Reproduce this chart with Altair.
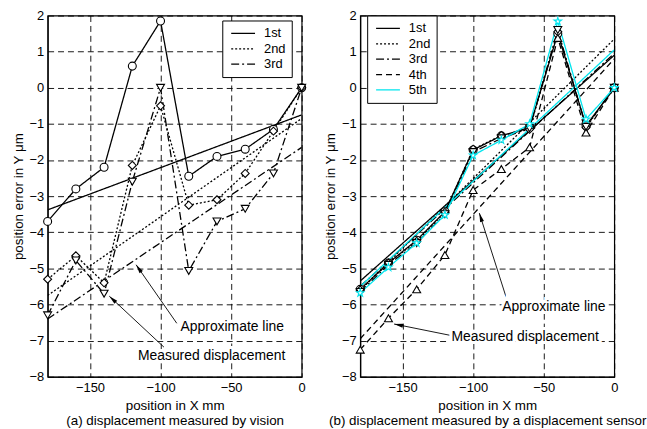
import math
import altair as alt
import pandas as pd

# ---------------- data ----------------
X = [-180, -160, -140, -120, -100, -80, -60, -40, -20, 0]

# (a) displacement measured by vision
NAMES_A = ["1st", "2nd", "3rd"]
A1 = [-3.7, -2.8, -2.2, 0.6, 1.85, -2.45, -1.9, -1.7, -1.15, 0.0]
A2 = [-5.3, -4.65, -5.4, -2.15, -0.5, -3.25, -3.1, -2.37, -1.2, 0.0]
A3 = [-6.3, -4.78, -5.7, -2.6, 0.0, -5.07, -3.7, -3.35, -2.37, 0.0]
FIT_A_START = [-3.38, -5.75, -6.4]   # approximate line value at x=-180
FIT_A_END = [-0.75, -0.85, -1.65]    # approximate line value at x=0

# (b) displacement measured by a displacement sensor
NAMES_B = ["1st", "2nd", "3rd", "4th", "5th"]
B1 = [-5.58, -4.85, -4.22, -3.43, -1.72, -1.33, -1.1, 1.5, -1.05, 0.0]
B2 = [-5.6, -4.85, -4.25, -3.45, -1.7, -1.32, -1.15, 1.55, -1.1, 0.0]
B3 = [-5.65, -4.9, -4.3, -3.5, -1.78, -1.4, -1.12, 1.6, -1.08, 0.0]
B4 = [-7.25, -6.38, -5.58, -4.63, -2.83, -2.25, -1.65, 1.38, -1.24, 0.0]
B5 = [-5.68, -4.97, -4.3, -3.52, -1.87, -1.45, -1.0, 1.84, -0.87, 0.0]
FIT_B_START = [-5.35, -5.6, -5.5, -6.95, -5.5]
FIT_B_END = [0.9, 1.35, 0.95, 0.8, 1.05]

FIT_X = [-180, 0]

# annotations: label, text x, text y, arrow tail x, tail y, head x, head y
ANN_A = [
    ["Approximate line", -85.8, -6.63, -88.5, -6.52, -117.3, -4.9],
    ["Measured displacement", -116.0, -7.42, -97.6, -7.18, -136.3, -5.77],
]
ANN_B = [
    ["Approximate line", -79.4, -6.08, -76.6, -5.8, -95.6, -3.47],
    ["Measured displacement", -115.3, -6.9, -116.7, -6.85, -156.0, -6.54],
]

X_TICKS = [-150, -100, -50, 0]
Y_TICKS = [-8, -7, -6, -5, -4, -3, -2, -1, 0, 1, 2]

TITLE_A = ["position in X mm", "(a) displacement measured by vision"]
TITLE_B = ["position in X mm", "(b) displacement measured by a displacement sensor"]
Y_TITLE = "position error in Y \u03bcm"

# ---------------- styles ----------------
FONT = "Liberation Sans"
COLORS = ["black", "black", "black", "black", "#00e5ee"]
DASHES = [[1, 0], [2, 2], [8, 3, 2, 3], [6, 4], [1, 0]]
WIDTHS = [1.3, 1.3, 1.3, 1.3, 2.0]
STAR = ("M0,-1L0.2245,-0.309L0.951,-0.309L0.363,0.118L0.588,0.809L0,0.382"
        "L-0.588,0.809L-0.363,0.118L-0.951,-0.309L-0.2245,-0.309Z")
SHAPES = ["circle", "diamond", "triangle-down", "triangle-up", STAR]
ARROW = "M0,0L0.45,2L-0.45,2Z"
LEGEND_LINE = "M-2,0H2"

W, H = 256, 364
PX_X = W / 180.0
PX_Y = H / 10.0


def long_df(names, series, xs):
    rows = []
    for name, vals in zip(names, series):
        for x, y in zip(xs, vals):
            rows.append({"series": name, "sw": name, "x": x, "y": y})
    return pd.DataFrame(rows)


def panel(names, series, fit_start, fit_end, ann, title, lx, ly):
    n = len(names)
    df = long_df(names, series, X)
    fit = long_df(names, [[a, b] for a, b in zip(fit_start, fit_end)], FIT_X)

    ann_df = pd.DataFrame(ann, columns=["label", "tx", "ty", "ax", "ay", "hx", "hy"])
    ann_df["angle"] = [
        (math.degrees(math.atan2((hx - ax) * PX_X, (hy - ay) * PX_Y)) + 360) % 360
        for ax, ay, hx, hy in zip(ann_df.ax, ann_df.ay, ann_df.hx, ann_df.hy)
    ]

    xs = alt.Scale(domain=[-180, 0], nice=False, zero=False)
    ys = alt.Scale(domain=[-8, 2], nice=False, zero=False)
    xaxis = alt.Axis(values=X_TICKS, title=title, grid=True, gridDash=[6, 4],
                     gridColor="black", gridOpacity=1, gridWidth=0.9,
                     tickSize=0, labelPadding=5, titlePadding=4,
                     titleLineHeight=15, labelOverlap=False)
    yaxis = alt.Axis(values=Y_TICKS, title=Y_TITLE, grid=True, gridDash=[6, 4],
                     gridColor="black", gridOpacity=1, gridWidth=0.9,
                     tickSize=0, labelPadding=4, titlePadding=4,
                     labelOverlap=False)

    legend = alt.Legend(title=None, orient="none", legendX=lx, legendY=ly,
                        fillColor="white", strokeColor="black", padding=6,
                        symbolSize=144, symbolStrokeWidth=1.6,
                        symbolType=LEGEND_LINE,
                        labelFontSize=13, labelFont=FONT, labelOffset=14,
                        rowPadding=1.5, symbolOffset=8, cornerRadius=0)

    color = alt.Color("series:N", scale=alt.Scale(domain=names, range=COLORS[:n]),
                      legend=legend)
    dash = alt.StrokeDash("series:N", scale=alt.Scale(domain=names, range=DASHES[:n]),
                          legend=legend)
    width = alt.StrokeWidth("sw:N", scale=alt.Scale(domain=names, range=WIDTHS[:n]),
                            legend=None)

    def xe(f):
        return alt.X(f, scale=xs, axis=xaxis)

    def ye(f):
        return alt.Y(f, scale=ys, axis=yaxis)

    layers = []
    layers.append(alt.Chart(fit).mark_line(clip=True).encode(
        x=xe("x:Q"), y=ye("y:Q"), color=color, strokeDash=dash, strokeWidth=width,
        detail="series:N"))
    layers.append(alt.Chart(df).mark_line(clip=True).encode(
        x=xe("x:Q"), y=ye("y:Q"), color=color, strokeDash=dash, strokeWidth=width,
        detail="series:N"))

    for i, name in enumerate(names):
        layers.append(
            alt.Chart(df).transform_filter(alt.datum.series == name).mark_point(
                shape=SHAPES[i], filled=False, fill="white", fillOpacity=1, opacity=1,
                stroke=COLORS[i], size=64, strokeWidth=1.1
            ).encode(x=xe("x:Q"), y=ye("y:Q"))
        )

    layers.append(alt.Chart(ann_df).mark_rule(color="black", strokeWidth=0.9).encode(
        x=xe("ax:Q"), y=ye("ay:Q"), x2="hx:Q", y2="hy:Q"))
    layers.append(alt.Chart(ann_df).mark_point(shape=ARROW, filled=True, color="black",
                                               size=81, opacity=1).encode(
        x=xe("hx:Q"), y=ye("hy:Q"), angle=alt.Angle("angle:Q", scale=None)))
    layers.append(alt.Chart(ann_df).mark_text(align="left", baseline="middle", font=FONT,
                                              fontSize=14, stroke="white", strokeWidth=6,
                                              fill="white").encode(
        x=xe("tx:Q"), y=ye("ty:Q"), text="label:N"))
    layers.append(alt.Chart(ann_df).mark_text(align="left", baseline="middle", font=FONT,
                                              fontSize=14, color="black").encode(
        x=xe("tx:Q"), y=ye("ty:Q"), text="label:N"))

    return alt.layer(*layers).properties(width=W, height=H)


left = panel(NAMES_A, [A1, A2, A3], FIT_A_START, FIT_A_END, ANN_A, TITLE_A, 176, 5)
right = panel(NAMES_B, [B1, B2, B3, B4, B5], FIT_B_START, FIT_B_END, ANN_B, TITLE_B, 7, 0)

chart = alt.hconcat(left, right, spacing=14).resolve_scale(
    color="independent", strokeDash="independent", strokeWidth="independent",
    x="independent", y="independent"
).resolve_legend(color="independent", strokeDash="independent").properties(
    padding={"left": 10, "top": 7, "right": 0, "bottom": 0}, background="white"
).configure_view(stroke="black", strokeWidth=1.2).configure_axis(
    labelFont=FONT, titleFont=FONT, labelFontSize=13, titleFontSize=13.5,
    titleFontWeight="normal", labelColor="black", titleColor="black",
    domainColor="black", domainWidth=1.2, labelFlush=False
)

chart.save("out.html", embed_options={"renderer": "svg", "actions": False})
